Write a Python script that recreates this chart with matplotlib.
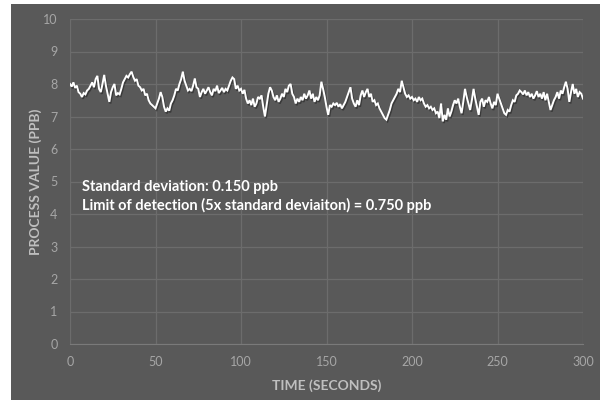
import matplotlib
matplotlib.use("Agg")
import matplotlib.pyplot as plt
import matplotlib.patheffects as pe
from matplotlib.patches import Rectangle
import numpy as np

x_ticks = [0, 50, 100, 150, 200, 250, 300]
y_ticks = [0, 1, 2, 3, 4, 5, 6, 7, 8, 9, 10]

vals_000 = [8.00, 7.92, 8.05, 7.88, 7.95, 7.75, 7.70, 7.60, 7.72, 7.68,
            7.80, 7.85, 7.95, 8.05, 7.90, 8.15, 8.25, 7.85, 7.75, 8.00,
            8.28, 7.95, 7.70, 7.45, 7.75, 7.90, 8.00, 7.65, 7.72, 7.68,
            7.85, 8.05, 8.15, 8.25, 8.20, 8.30, 8.38, 8.22, 8.10, 8.15,
            7.95, 7.90, 7.80, 7.85, 7.65, 7.70, 7.50, 7.40, 7.35, 7.30]
vals_050 = [7.25, 7.40, 7.55, 7.75, 7.60, 7.30, 7.15, 7.25, 7.18, 7.40,
            7.50, 7.65, 7.85, 7.80, 8.00, 8.15, 8.38, 8.10, 7.95, 7.80,
            7.85, 7.78, 7.95, 8.17, 7.90, 7.85, 7.60, 7.75, 7.85, 7.70,
            7.80, 7.90, 7.75, 7.65, 7.85, 7.78, 7.95, 7.72, 7.80, 7.88,
            7.75, 7.85, 7.80, 7.95, 8.10, 8.20, 8.15, 7.85, 7.95, 7.80]
vals_100 = [7.85, 7.70, 7.82, 7.55, 7.40, 7.50, 7.35, 7.55, 7.30, 7.40,
            7.60, 7.55, 7.65, 7.30, 7.00, 7.35, 7.70, 7.90, 7.80, 7.60,
            7.50, 7.65, 7.45, 7.55, 7.70, 7.60, 7.85, 7.75, 7.95, 8.00,
            7.70, 7.60, 7.40, 7.55, 7.45, 7.60, 7.50, 7.70, 7.55, 7.65,
            7.80, 7.55, 7.70, 7.45, 7.60, 7.50, 7.65, 8.07, 7.85, 7.60]
vals_150 = [7.30, 7.05, 7.35, 7.30, 7.40, 7.35, 7.42, 7.30, 7.38, 7.25,
            7.35, 7.45, 7.60, 7.75, 7.90, 7.55, 7.40, 7.30, 7.50, 7.35,
            7.65, 7.80, 7.60, 7.75, 7.85, 7.60, 7.70, 7.45, 7.50, 7.35,
            7.40, 7.25, 7.15, 7.05, 6.95, 6.90, 7.05, 7.20, 7.40, 7.50,
            7.60, 7.70, 7.85, 7.75, 8.10, 7.90, 7.70, 7.60, 7.65, 7.55]
vals_200 = [7.60, 7.50, 7.55, 7.45, 7.60, 7.50, 7.55, 7.40, 7.30, 7.35,
            7.25, 7.30, 7.20, 7.25, 7.10, 7.15, 6.95, 7.40, 6.85, 7.05,
            6.90, 7.25, 7.00, 7.15, 7.35, 7.50, 7.40, 7.55, 7.30, 7.10,
            7.45, 7.85, 7.60, 7.40, 7.20, 7.50, 7.85, 7.55, 7.30, 7.05,
            7.45, 7.55, 7.30, 7.50, 7.45, 7.60, 7.40, 7.25, 7.45, 7.35]
vals_250 = [7.70, 7.55, 7.40, 7.25, 7.10, 7.05, 7.20, 7.15, 7.35, 7.50,
            7.45, 7.65, 7.70, 7.80, 7.75, 7.68, 7.80, 7.65, 7.75, 7.60,
            7.70, 7.55, 7.65, 7.78, 7.60, 7.70, 7.55, 7.75, 7.50, 7.70,
            7.45, 7.20, 7.35, 7.50, 7.60, 7.75, 7.55, 7.80, 7.70, 7.90,
            8.07, 7.85, 7.45, 7.75, 8.00, 7.70, 7.85, 7.60, 7.75, 7.70,
            7.55]

values = vals_000 + vals_050 + vals_100 + vals_150 + vals_200 + vals_250
times = np.arange(len(values))

annot_1 = "Standard deviation: 0.150 ppb"
annot_2 = "Limit of detection (5x standard deviaiton) = 0.750 ppb"

BG = "#595959"
GRID = "#6c6c6c"
TICK = "#a6a6a6"
LABEL = "#bfbfbf"

fig = plt.figure(figsize=(6, 4), dpi=100, facecolor="white")
fig.patches.append(Rectangle((11 / 600, 0), 1 - 11 / 600, 1 - 4 / 400,
                             transform=fig.transFigure, facecolor=BG,
                             edgecolor="none", zorder=-10))
ax = fig.add_axes([70 / 600, 1 - 344 / 400, (583 - 70) / 600, (344 - 19) / 400])
ax.set_facecolor(BG)

ax.plot(times, values, color="white", lw=1.4, solid_joinstyle="miter",
        path_effects=[pe.SimpleLineShadow(offset=(0.8, -1.2), shadow_color="black", alpha=0.35),
                      pe.Normal()])

ax.set_xlim(0, 300)
ax.set_ylim(0, 10)
ax.set_xticks(x_ticks)
ax.set_yticks(y_ticks)
ax.grid(True, color=GRID, lw=0.9)
ax.set_axisbelow(True)
for s in ax.spines.values():
    s.set_visible(False)
ax.spines["bottom"].set_visible(True)
ax.spines["bottom"].set_color("#7a7a7a")
ax.tick_params(length=0, colors=TICK, labelsize=9, pad=9)
for lab in ax.get_xticklabels() + ax.get_yticklabels():
    lab.set_family("Lato")

ax.set_xlabel("TIME (SECONDS)", color=LABEL, fontsize=10, fontweight="bold",
              family="Lato", labelpad=8)
ax.set_ylabel("PROCESS VALUE (PPB)", color=LABEL, fontsize=10, fontweight="bold",
              family="Lato", labelpad=1)

ax.text((82 - 70) / 513, (344 - 187) / 325, annot_1, transform=ax.transAxes,
        color="white", fontsize=10.5, fontweight="bold", family="Lato", va="center")
ax.text((82 - 70) / 513, (344 - 205) / 325, annot_2, transform=ax.transAxes,
        color="white", fontsize=10.5, fontweight="bold", family="Lato", va="center")

fig.savefig("out.png", dpi=100, facecolor=fig.get_facecolor())
